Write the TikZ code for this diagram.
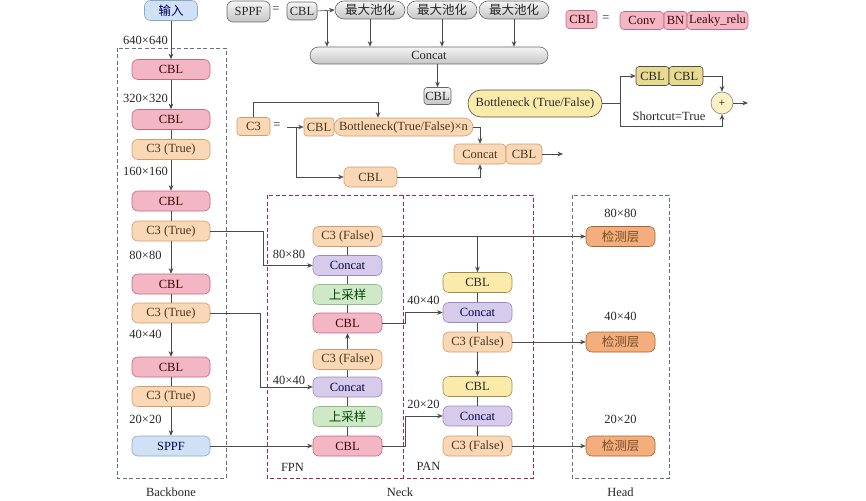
\documentclass[tikz,border=0pt]{standalone}
\usepackage{fontspec}
\setmainfont{Liberation Serif}
\newfontfamily\cjk{Noto Sans CJK SC}
\usetikzlibrary{arrows.meta}

\definecolor{linecol}{HTML}{4A4A4A}
\definecolor{cblfill}{HTML}{F3B6C4}
\definecolor{cbldraw}{HTML}{C26A82}
\definecolor{c3fill}{HTML}{FAD8B6}
\definecolor{c3draw}{HTML}{D39C6E}
\definecolor{catfill}{HTML}{D7CBEB}
\definecolor{catdraw}{HTML}{9A88C2}
\definecolor{upfill}{HTML}{CFE8C8}
\definecolor{updraw}{HTML}{8FBC8A}
\definecolor{ylwfill}{HTML}{FBEBAA}
\definecolor{ylwdraw}{HTML}{9E8A48}
\definecolor{detfill}{HTML}{F4AE7E}
\definecolor{detdraw}{HTML}{A86234}
\definecolor{bluefill}{HTML}{D0E1F5}
\definecolor{bluedraw}{HTML}{8CA6CA}
\definecolor{neckcol}{HTML}{A8245A}
\definecolor{boxcol}{HTML}{687080}

\begin{document}
\begin{tikzpicture}[x=1pt,y=-1pt,>={Stealth[length=5.5pt,width=4.5pt]},line width=0.6pt,
  font=\fontsize{12.5}{14}\selectfont,
  blk/.style={draw,rounded corners=6pt,minimum height=20pt,inner sep=1pt,text=black!85},
  cbl/.style={blk,fill=cblfill,draw=cbldraw,text=red!25!black},
  cthree/.style={blk,fill=c3fill,draw=c3draw,text=brown!40!black},
  cat/.style={blk,fill=catfill,draw=catdraw,text=blue!30!black},
  upsm/.style={blk,fill=upfill,draw=updraw,text=green!30!black,font=\fontsize{12.5}{14}\cjk},
  ylw/.style={blk,fill=ylwfill,draw=ylwdraw},
  det/.style={blk,fill=detfill,draw=detdraw,text=brown!60!black,font=\fontsize{12.5}{14}\cjk},
  blu/.style={blk,fill=bluefill,draw=bluedraw,text=blue!35!black},
  gry/.style={blk,top color=gray!8,bottom color=gray!45,draw=gray!80!black,minimum height=18pt},
  bbw/.style={minimum width=78pt},
  nkw/.style={minimum width=69pt},
  lbl/.style={inner sep=0pt,text=black!85},
  frame/.style={draw=boxcol,dash pattern=on 4pt off 2.5pt,line width=0.8pt},
  link/.style={draw=linecol}]

  % ---- backbone
  \node[blu,minimum width=53pt] (input) at (171,10.5) {\cjk 输入};
  \node[cbl,bbw] (bbCBLa) at (171,69.5) {CBL};
  \node[cbl,bbw] (bbCBLb) at (171,119.5) {CBL};
  \node[cthree,bbw] (bbC3a) at (171,149.5) {C3 (True)};
  \node[cbl,bbw] (bbCBLc) at (171,201) {CBL};
  \node[cthree,bbw] (bbC3b) at (171,231) {C3 (True)};
  \node[cbl,bbw] (bbCBLd) at (171,284) {CBL};
  \node[cthree,bbw] (bbC3c) at (171,313) {C3 (True)};
  \node[cbl,bbw] (bbCBLe) at (171,367) {CBL};
  \node[cthree,bbw] (bbC3d) at (171,396.5) {C3 (True)};
  \node[blu,bbw] (sppf) at (171,446) {SPPF};

  \node[lbl] (szA) at (145.5,40) {640×640};
  \node[lbl] (szB) at (145.5,98) {320×320};
  \node[lbl] (szC) at (145.5,171) {160×160};
  \node[lbl] (szD) at (145.5,255) {80×80};
  \node[lbl] (szE) at (145.5,334) {40×40};
  \node[lbl] (szF) at (145.5,419) {20×20};

  % ---- neck: FPN
  \node[cthree,nkw] (fpnC3a) at (347.5,236.5) {C3 (False)};
  \node[cat,nkw] (fpnCata) at (347.5,265.5) {Concat};
  \node[upsm,nkw] (fpnUpa) at (347.5,294.5) {上采样};
  \node[cbl,nkw] (fpnCBLa) at (347.5,323) {CBL};
  \node[cthree,nkw] (fpnC3b) at (347.5,359.5) {C3 (False)};
  \node[cat,nkw] (fpnCatb) at (347.5,387) {Concat};
  \node[upsm,nkw] (fpnUpb) at (347.5,416.5) {上采样};
  \node[cbl,nkw] (fpnCBLb) at (347.5,446) {CBL};

  \node[lbl] (fpnSzA) at (289,254) {80×80};
  \node[lbl] (fpnSzB) at (289,380) {40×40};

  % ---- neck: PAN
  \node[ylw,nkw] (panCBLa) at (477.5,282.5) {CBL};
  \node[cat,nkw] (panCata) at (477.5,312.5) {Concat};
  \node[cthree,nkw] (panC3a) at (477.5,342) {C3 (False)};
  \node[ylw,nkw] (panCBLb) at (477.5,386.5) {CBL};
  \node[cat,nkw] (panCatb) at (477.5,416) {Concat};
  \node[cthree,nkw] (panC3b) at (477.5,446) {C3 (False)};

  \node[lbl] (panSzA) at (423.5,300) {40×40};
  \node[lbl] (panSzB) at (423.5,404) {20×20};

  % ---- head
  \node[det,nkw] (detA) at (620.5,236.5) {检测层};
  \node[det,nkw] (detB) at (620.5,342) {检测层};
  \node[det,nkw] (detC) at (620.5,446) {检测层};

  \node[lbl] (hdSzA) at (620.5,213) {80×80};
  \node[lbl] (hdSzB) at (620.5,316) {40×40};
  \node[lbl] (hdSzC) at (620.5,419) {20×20};

  % ---- frames
  \draw[frame] (117,48) rectangle (226,478);
  \draw[frame,draw=neckcol,line width=1pt] (267,195) rectangle (533,478);
  \draw[frame,draw=neckcol,line width=1pt] (403,195) -- (403,478);
  \draw[frame] (572,195) rectangle (669,478);

  \node[lbl] (lblBackbone) at (171,492) {Backbone};
  \node[lbl] (lblNeck) at (400,492) {Neck};
  \node[lbl] (lblHead) at (620.5,492) {Head};
  \node[lbl] (lblFPN) at (292.5,467) {FPN};
  \node[lbl] (lblPAN) at (428.5,466) {PAN};

  % ---- connectors
  \path[link,->] (input) edge (bbCBLa)
        (bbCBLa) edge (bbCBLb)
        (bbC3a) edge (bbCBLc)
        (bbC3b) edge (bbCBLd)
        (bbC3c) edge (bbCBLe)
        (bbC3d) edge (sppf)
        (fpnC3b) edge (fpnCBLa)
        (panC3a) edge (panCBLb);
  \path[link] (bbCBLb) edge (bbC3a)
        (bbCBLc) edge (bbC3b)
        (bbCBLd) edge (bbC3c)
        (bbCBLe) edge (bbC3d)
        (fpnCBLb) edge (fpnUpb)
        (fpnUpb) edge (fpnCatb)
        (fpnCatb) edge (fpnC3b)
        (fpnCBLa) edge (fpnUpa)
        (fpnUpa) edge (fpnCata)
        (fpnCata) edge (fpnC3a)
        (panCBLa) edge (panCata)
        (panCata) edge (panC3a)
        (panCBLb) edge (panCatb)
        (panCatb) edge (panC3b);

  \draw[link,->] (bbC3b.east) -- ++(53,0) |- (fpnCata.west);
  \draw[link,->] (bbC3c.east) -- ++(50,0) |- (fpnCatb.west);
  \draw[link,->] (sppf.east) -- (fpnCBLb.west);
  \draw[link,->] (fpnC3a.east) -- (detA.west);
  \draw[link,->] (panCBLa.north |- fpnC3a.east) -- (panCBLa.north);
  \draw[link,->] (fpnCBLa.east) -- ++(23,0) |- (panCata.west);
  \draw[link,->] (fpnCBLb.east) -- ++(23,0) |- (panCatb.west);
  \draw[link,->] (panC3a.east) -- (detB.west);
  \draw[link,->] (panC3b.east) -- (detC.west);

  % ---- SPPF module
  \node[gry,minimum width=43pt,minimum height=21pt] (spDef) at (248.5,11.5) {SPPF};
  \node[lbl] (spEq) at (276,10) {=};
  \node[gry,minimum width=30pt,rounded corners=4pt] (spCBL) at (302,11) {CBL};
  \node[gry,minimum width=70pt,rounded corners=9pt] (poolA) at (370,10) {\cjk 最大池化};
  \node[gry,minimum width=70pt,rounded corners=9pt] (poolB) at (442,10) {\cjk 最大池化};
  \node[gry,minimum width=70pt,rounded corners=9pt] (poolC) at (514,10) {\cjk 最大池化};
  \node[gry,minimum width=238pt,minimum height=17pt,rounded corners=8.5pt] (spCat) at (429,55.5) {Concat};
  \node[gry,minimum width=27pt,minimum height=17pt,rounded corners=3pt] (spOut) at (437.5,96) {CBL};
  \coordinate (spTap) at (327,11);

  \draw[link,->] (spCBL.east) -- (poolA.west);
  \draw[link,->] (spTap) -- (spTap |- spCat.north);
  \draw[link,->] (poolA.south) -- (poolA.south |- spCat.north);
  \draw[link,->] (poolB.south) -- (poolB.south |- spCat.north);
  \draw[link,->] (poolC.south) -- (poolC.south |- spCat.north);
  \draw[link,->] (spOut.north |- spCat.south) -- (spOut.north);

  % ---- CBL legend
  \node[cbl,minimum width=31pt,minimum height=18pt,rounded corners=3pt] (lgCBL) at (581.5,19.5) {CBL};
  \node[lbl] (lgEq) at (606,19) {=};
  \node[cbl,minimum width=44pt,minimum height=18pt,rounded corners=4pt] (lgConv) at (642,20.5) {Conv};
  \node[cbl,minimum width=23pt,minimum height=18pt,rounded corners=3pt] (lgBN) at (675.5,20.5) {BN};
  \node[cbl,minimum width=61pt,minimum height=18pt,rounded corners=4pt] (lgLeaky) at (717.5,20.5) {Leaky\_relu};

  % ---- Bottleneck module
  \node[ylw,draw=black!70,minimum width=134pt,minimum height=27pt,rounded corners=13pt] (btnk) at (535,103.5) {Bottleneck (True/False)};
  \node[ylw,draw=black!70,fill=ylwfill!85!olive,minimum width=33pt,minimum height=19pt,rounded corners=3pt] (btCBLa) at (652.5,76) {CBL};
  \node[ylw,draw=black!70,fill=ylwfill!85!olive,minimum width=34pt,minimum height=19pt,rounded corners=3pt] (btCBLb) at (686,76) {CBL};
  \node[circle,draw=gray,fill=ylwfill!70,minimum size=22pt,inner sep=0pt,font=\fontsize{11}{12}\selectfont] (btSum) at (722,103) {+};
  \node[lbl] (btShort) at (669,116) {Shortcut=True};
  \coordinate (btLow) at (722,126);
  \coordinate (btOut) at (748,103);

  \draw[link,->] (btnk.east) -- ++(18,0) |- (btCBLa.west);
  \draw[link,->] (btnk.east) -- ++(18,0) |- (btLow) -- (btSum.south);
  \draw[link,->] (btCBLb.east) -| (btSum.north);
  \draw[link,->] (btSum.east) -- (btOut);

  % ---- C3 module
  \node[cthree,minimum width=33pt,minimum height=18pt,rounded corners=3pt] (c3Def) at (253.5,126.5) {C3};
  \node[lbl] (c3Eq) at (277,126) {=};
  \node[cthree,minimum width=30pt,minimum height=18pt,rounded corners=3pt] (c3CBL) at (319,127) {CBL};
  \node[cthree,minimum width=139pt,minimum height=18pt,rounded corners=9pt] (c3Btnk) at (403.5,127) {Bottleneck(True/False)×n};
  \node[cthree,minimum width=52pt,rounded corners=4pt] (c3Cat) at (480,154) {Concat};
  \node[cthree,minimum width=36pt,rounded corners=4pt] (c3CBLo) at (524,154) {CBL};
  \node[cthree,minimum width=53pt,rounded corners=5pt] (c3CBLs) at (370.5,177) {CBL};
  \coordinate (c3In) at (287,127);
  \coordinate (c3Tap) at (296,127);
  \coordinate (c3Top) at (378,102);
  \coordinate (c3Out) at (563,154);

  \draw[link,->] (c3In) -- (c3CBL.west);
  \draw[link,->] (c3Def.north) |- (c3Top) -- (c3Top |- c3Btnk.north);
  \draw[link,->] (c3Btnk.east) -| (c3Cat.north);
  \draw[link,->] (c3Tap) |- (c3CBLs.west);
  \draw[link,->] (c3CBLs.east) -| (c3Cat.south);
  \draw[link,->] (c3CBLo.east) -- (c3Out);

  \useasboundingbox (0,0) rectangle (866,500);
\end{tikzpicture}
\end{document}
